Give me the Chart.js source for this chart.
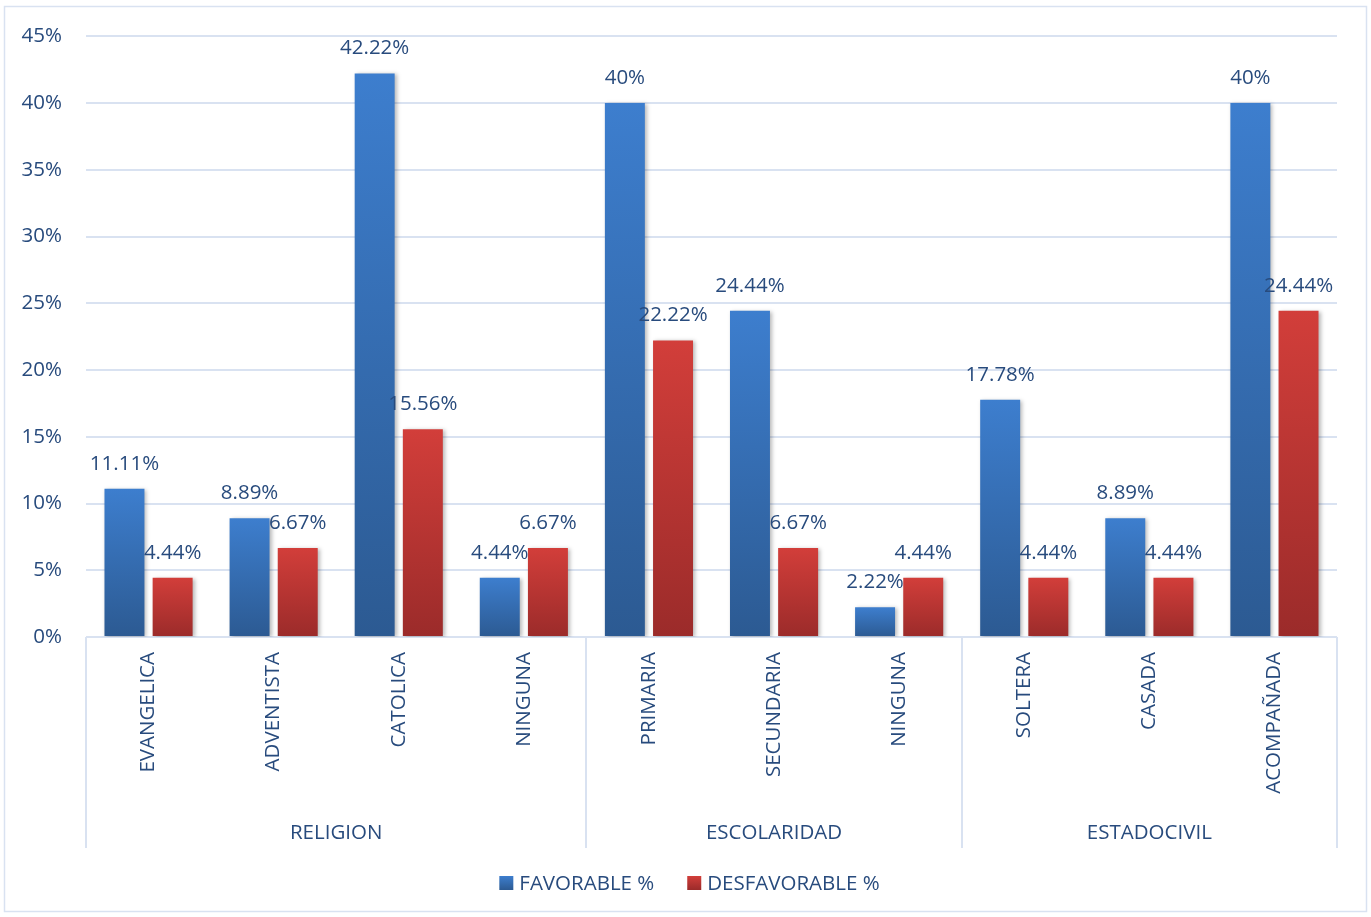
<!DOCTYPE html>
<html>
<head>
<meta charset="utf-8">
<script src="https://cdn.jsdelivr.net/npm/chart.js@4.4.1/dist/chart.umd.min.js"></script>
<style>
  html, body { margin: 0; padding: 0; background: #fff; }
  #wrap { width: 1371px; height: 917px; position: relative; }
</style>
</head>
<body>
<div id="wrap"><canvas id="chartActitud"></canvas></div>
<script>
// datos
const categorias = ['EVANGELICA', 'ADVENTISTA', 'CATOLICA', 'NINGUNA', 'PRIMARIA', 'SECUNDARIA', 'NINGUNA', 'SOLTERA', 'CASADA', 'ACOMPAÑADA'];
const grupos = ['RELIGION', 'ESCOLARIDAD', 'ESTADOCIVIL'];
const tamGrupos = [4, 3, 3];
const favorable = [11.11, 8.89, 42.22, 4.44, 40, 24.44, 2.22, 17.78, 8.89, 40];
const desfavorable = [4.44, 6.67, 15.56, 6.67, 22.22, 6.67, 4.44, 4.44, 4.44, 24.44];
const series = ['FAVORABLE %', 'DESFAVORABLE %'];

const FUENTE = "'Open Sans', Lato, sans-serif";
const TAM = 20.5;
const COLOR_TEXTO = '#284B7D';
const COLOR_LINEA = '#D9E2F1';

const colores = [
    { top: '#3D7ECE', bottom: '#2C5A92', solid: '#3470BD' },
    { top: '#D23E3A', bottom: '#9B2B2A', solid: '#BE3634' }
];

function degradado(c) {
    return function (ctx) {
        const chart = ctx.chart;
        if (!chart.chartArea || ctx.raw === undefined) return c.solid;
        const y = chart.scales.y;
        const top = y.getPixelForValue(ctx.raw);
        const bottom = y.getPixelForValue(0);
        if (!isFinite(top) || top === bottom) return c.solid;
        const g = chart.ctx.createLinearGradient(0, top, 0, bottom);
        g.addColorStop(0, c.top);
        g.addColorStop(1, c.bottom);
        return g;
    };
}

const etiquetasPlugin = {
    id: 'etiquetas',
    beforeDatasetsDraw(chart) {
        const ctx = chart.ctx;
        ctx.save();
        ctx.shadowColor = 'rgba(0,0,0,0.28)';
        ctx.shadowBlur = 4;
        ctx.shadowOffsetX = 2;
        ctx.shadowOffsetY = 1;
    },
    afterDatasetsDraw(chart) {
        const ctx = chart.ctx;
        ctx.restore();
        ctx.save();
        ctx.font = TAM + 'px ' + FUENTE;
        ctx.fillStyle = COLOR_TEXTO;
        ctx.textAlign = 'center';
        ctx.textBaseline = 'middle';
        chart.data.datasets.forEach(function (ds, di) {
            chart.getDatasetMeta(di).data.forEach(function (el, i) {
                ctx.fillText(ds.data[i] + '%', el.x, el.y - 25);
            });
        });
        ctx.restore();
    },
    afterDraw(chart) {
        const ctx = chart.ctx;
        const x = chart.scales.x;
        const area = chart.chartArea;
        const ancho = x.width / categorias.length;
        ctx.save();
        // borde del grafico
        ctx.strokeStyle = COLOR_LINEA;
        ctx.lineWidth = 1.5;
        ctx.strokeRect(4.5, 6.5, 1362, 905);

        // etiquetas de categoria
        ctx.fillStyle = COLOR_TEXTO;
        ctx.font = TAM + 'px ' + FUENTE;
        categorias.forEach(function (c, i) {
            const px = x.getPixelForValue(i);
            ctx.save();
            ctx.translate(px, area.bottom + 15);
            ctx.rotate(-Math.PI / 2);
            ctx.textAlign = 'right';
            ctx.textBaseline = 'middle';
            ctx.fillText(c, 0, 0);
            ctx.restore();
        });

        // grupos y separadores
        ctx.strokeStyle = COLOR_LINEA;
        ctx.lineWidth = 2;
        ctx.textAlign = 'center';
        ctx.textBaseline = 'middle';
        let ini = 0;
        const fondo = area.bottom + 211;
        tamGrupos.forEach(function (n, g) {
            const x0 = x.getPixelForValue(ini) - ancho / 2;
            const x1 = x.getPixelForValue(ini + n - 1) + ancho / 2;
            ctx.beginPath();
            ctx.moveTo(Math.round(x0), area.bottom);
            ctx.lineTo(Math.round(x0), fondo);
            if (g === tamGrupos.length - 1) {
                ctx.moveTo(Math.round(x1), area.bottom);
                ctx.lineTo(Math.round(x1), fondo);
            }
            ctx.stroke();
            ctx.fillText(grupos[g], (x0 + x1) / 2, area.bottom + 196);
            ini += n;
        });

        // leyenda
        ctx.textAlign = 'left';
        const anchos = series.map(function (s) { return ctx.measureText(s).width; });
        const caja = 14, sep = 6, hueco = 33;
        const total = anchos[0] + anchos[1] + 2 * (caja + sep) + hueco;
        let lx = chart.width / 2 - total / 2 + 4;
        const ly = 883;
        series.forEach(function (s, i) {
            const g = ctx.createLinearGradient(0, ly - caja / 2, 0, ly + caja / 2);
            g.addColorStop(0, colores[i].top);
            g.addColorStop(1, colores[i].bottom);
            ctx.fillStyle = g;
            ctx.fillRect(lx, ly - caja / 2, caja, caja);
            ctx.fillStyle = COLOR_TEXTO;
            ctx.fillText(s, lx + caja + sep, ly + 1);
            lx += caja + sep + anchos[i] + hueco;
        });
        ctx.restore();
    }
};

const ctx = document.getElementById('chartActitud').getContext('2d');
const chartActitud = new Chart(ctx, {
    type: 'bar',
    data: {
        labels: categorias,
        datasets: [{
            label: series[0],
            data: favorable,
            backgroundColor: degradado(colores[0]),
            categoryPercentage: 0.77,
            barPercentage: 0.83
        }, {
            label: series[1],
            data: desfavorable,
            backgroundColor: degradado(colores[1]),
            categoryPercentage: 0.77,
            barPercentage: 0.83
        }]
    },
    options: {
        responsive: true,
        maintainAspectRatio: false,
        animation: false,
        layout: {
            padding: { top: 35, right: 34, bottom: 0, left: 0 }
        },
        plugins: {
            legend: { display: false },
            tooltip: { enabled: false }
        },
        scales: {
            x: {
                grid: { display: false },
                border: { display: false },
                ticks: { display: false },
                afterFit: function (scale) { scale.height = 280; }
            },
            y: {
                min: 0,
                max: 45,
                border: { display: false },
                grid: { color: COLOR_LINEA, lineWidth: 2, drawTicks: false },
                ticks: {
                    stepSize: 5,
                    padding: 24,
                    color: COLOR_TEXTO,
                    font: { family: FUENTE, size: TAM },
                    callback: function (v) { return v + '%'; }
                },
                afterFit: function (scale) { scale.width = 86; }
            }
        }
    },
    plugins: [etiquetasPlugin]
});
</script>
</body>
</html>
